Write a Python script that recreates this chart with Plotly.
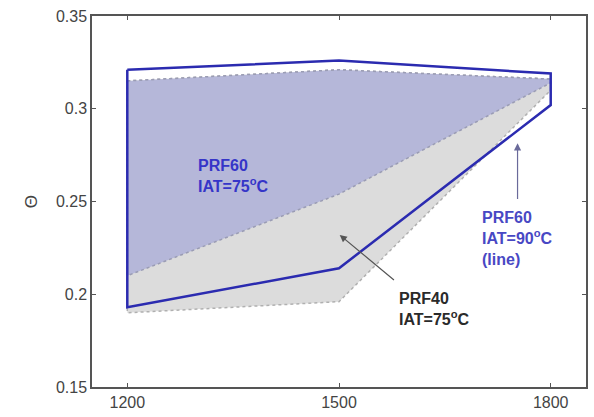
import plotly.graph_objects as go

# Data
speed = [1200, 1500, 1800]
prf60_90_upper = [0.321, 0.326, 0.319]
prf60_90_lower = [0.193, 0.214, 0.302]
prf60_75_upper = [0.315, 0.321, 0.316]
prf60_75_lower = [0.210, 0.254, 0.314]
prf40_75_upper = [0.315, 0.321, 0.316]
prf40_75_lower = [0.190, 0.196, 0.310]

x_ticks = [1200, 1500, 1800]
y_ticks = [0.15, 0.2, 0.25, 0.3, 0.35]
y_tick_text = ["0.15", "0.2", "0.25", "0.3", "0.35"]


def closed(upper, lower):
    xs = speed + speed[::-1] + [speed[0]]
    ys = upper + lower[::-1] + [upper[0]]
    return xs, ys


fig = go.Figure()

gx, gy = closed(prf40_75_upper, prf40_75_lower)
fig.add_trace(go.Scatter(x=gx, y=gy, mode="lines", fill="toself",
                         fillcolor="#dcdcdc",
                         line=dict(color="#b0b0b0", width=1.5, dash="dot"),
                         hoverinfo="skip", showlegend=False))

bx, by = closed(prf60_75_upper, prf60_75_lower)
fig.add_trace(go.Scatter(x=bx, y=by, mode="lines", fill="toself",
                         fillcolor="#b5b7d9",
                         line=dict(color="#9a9cb4", width=1.5, dash="dot"),
                         hoverinfo="skip", showlegend=False))

lx, ly = closed(prf60_90_upper, prf60_90_lower)
fig.add_trace(go.Scatter(x=lx, y=ly, mode="lines",
                         line=dict(color="#2b2bb0", width=2.5),
                         hoverinfo="skip", showlegend=False))

font_b = "Liberation Sans"
fig.add_annotation(x=1298, y=0.264, xref="x", yref="y",
                   text="<b>PRF60<br>IAT=75<sup>o</sup>C</b>", showarrow=False,
                   xanchor="left", align="left", yanchor="middle",
                   font=dict(family=font_b, size=16, color="#3535c8"))
fig.add_annotation(x=1700, y=0.2303, xref="x", yref="y",
                   text="<b>PRF60<br>IAT=90<sup>o</sup>C<br>(line)</b>", showarrow=False,
                   xanchor="left", align="left", yanchor="middle",
                   font=dict(family=font_b, size=16, color="#4848c4"))
fig.add_annotation(x=1582, y=0.1918, xref="x", yref="y",
                   text="<b>PRF40<br>IAT=75<sup>o</sup>C</b>", showarrow=False,
                   xanchor="left", align="left", yanchor="middle",
                   font=dict(family=font_b, size=16, color="#2a2a2a"))
# arrows
fig.add_annotation(x=1501, y=0.232, ax=1580, ay=0.207, xref="x", yref="y",
                   axref="x", ayref="y", text="", showarrow=True,
                   arrowhead=2, arrowsize=1.2, arrowwidth=1.2, arrowcolor="#555555")
fig.add_annotation(x=1753, y=0.2814, ax=1753, ay=0.2505, xref="x", yref="y",
                   axref="x", ayref="y", text="", showarrow=True,
                   arrowhead=2, arrowsize=1.2, arrowwidth=1.2, arrowcolor="#6a6a9a")

axis_common = dict(showline=True, linecolor="#555555", linewidth=1.5,
                   mirror="ticks", ticks="inside", ticklen=4,
                   tickcolor="#555555", showgrid=False, zeroline=False,
                   tickfont=dict(family="Liberation Sans", size=16, color="#444444"))

fig.update_xaxes(range=[1150, 1850], tickvals=x_ticks, **axis_common)
fig.update_yaxes(range=[0.15, 0.35], tickvals=y_ticks, ticktext=y_tick_text,
                 title=dict(text="Θ", font=dict(family="Liberation Sans", size=17,
                                                 color="#444444"), standoff=14),
                 **axis_common)

fig.update_layout(width=594, height=417,
                  margin=dict(l=92, r=6, t=16, b=25),
                  paper_bgcolor="white", plot_bgcolor="white")

fig.write_html("out.html")
